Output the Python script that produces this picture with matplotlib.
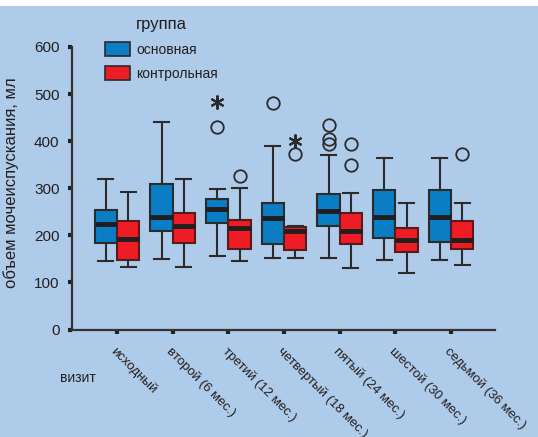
import matplotlib
matplotlib.use("Agg")
import matplotlib.pyplot as plt
from matplotlib.patches import Patch, Rectangle
from matplotlib.transforms import ScaledTranslation

plt.rcParams['font.family'] = ['Liberation Sans', 'DejaVu Sans']

# visits
visits = ['исходный', 'второй (6 мес.)', 'третий (12 мес.)', 'четвертый (18 мес.)',
          'пятый (24 мес.)', 'шестой (30 мес.)', 'седьмой (36 мес.)']

# main group (основная)
main_whislo = [145, 150, 157, 151, 151, 147, 147]
main_q1 = [183, 209, 226, 181, 219, 195, 186]
main_med = [225, 240, 255, 237, 252, 239, 239]
main_q3 = [254, 310, 277, 269, 287, 296, 296]
main_whishi = [319, 440, 298, 390, 370, 364, 364]
main_out = [[], [], [430], [482], [393, 405, 434], [], []]
main_extreme = [[], [], [483], [], [], [], []]

# control group (контрольная)
ctrl_whislo = [132, 132, 145, 151, 130, 121, 137]
ctrl_q1 = [147, 183, 171, 169, 181, 165, 172]
ctrl_med = [192, 219, 216, 209, 210, 190, 190]
ctrl_q3 = [230, 248, 232, 218, 248, 216, 230]
ctrl_whishi = [292, 319, 301, 220, 290, 269, 269]
ctrl_out = [[], [], [327], [372], [350, 393], [], [372]]
ctrl_extreme = [[], [], [], [400], [], [], []]

bg = '#aecbe9'
blue = '#0a7dc4'
red = '#ee1c25'
dark = '#2b2b2b'
txt = '#231f20'

fig = plt.figure(figsize=(5.38, 4.37), dpi=100, facecolor=bg)
fig.patches.append(Rectangle((0, 1 - 6 / 437), 1, 6 / 437, transform=fig.transFigure,
                             facecolor='white', edgecolor='none'))
ax = fig.add_axes([72 / 538, 107.5 / 437, 423 / 538, 282.5 / 437])
ax.set_facecolor(bg)


def stats(lo, q1, med, q3, hi, out):
    return [dict(whislo=a, q1=b, med=c, q3=d, whishi=e, fliers=f)
            for a, b, c, d, e, f in zip(lo, q1, med, q3, hi, out)]


pos = list(range(len(visits)))
common = dict(widths=0.4, capwidths=0.27, patch_artist=True,
              whiskerprops=dict(color=dark, lw=1.5),
              capprops=dict(color=dark, lw=1.5),
              medianprops=dict(color='#1e1e1e', lw=3.5, solid_capstyle='butt'),
              flierprops=dict(marker='o', markerfacecolor='none', markeredgecolor=dark,
                              markersize=9, markeredgewidth=1.3, linestyle='none'))

ax.bxp(stats(main_whislo, main_q1, main_med, main_q3, main_whishi, main_out),
       positions=[p - 0.2 for p in pos],
       boxprops=dict(facecolor=blue, edgecolor=dark, lw=1.5), **common)
ax.bxp(stats(ctrl_whislo, ctrl_q1, ctrl_med, ctrl_q3, ctrl_whishi, ctrl_out),
       positions=[p + 0.2 for p in pos],
       boxprops=dict(facecolor=red, edgecolor='#5a1a1a', lw=1.5), **common)

for p, ex in zip(pos, main_extreme):
    if ex:
        ax.plot([p - 0.2] * len(ex), ex, linestyle='none', marker=(6, 2, 0),
                markersize=10, mew=1.5, color=dark)
for p, ex in zip(pos, ctrl_extreme):
    if ex:
        ax.plot([p + 0.2] * len(ex), ex, linestyle='none', marker=(6, 2, 0),
                markersize=10, mew=1.5, color=dark)

ax.set_xlim(-0.81, 6.79)
ax.set_ylim(0, 600)
ax.set_yticks([0, 100, 200, 300, 400, 500, 600])
ax.set_xticks(pos)
ax.set_xticklabels(visits, rotation=-45, ha='left', va='top', rotation_mode='anchor',
                   fontsize=9.5, color=txt)
shift = ScaledTranslation(6 / 100, 0, fig.dpi_scale_trans)
for lab in ax.get_xticklabels():
    lab.set_transform(lab.get_transform() + shift)
ax.tick_params(axis='y', length=3, width=3, direction='out', colors=txt,
               labelsize=11, pad=6)
ax.tick_params(axis='x', length=3, width=3, direction='out', colors=txt, pad=8)
for s in ['top', 'right']:
    ax.spines[s].set_visible(False)
for s in ['left', 'bottom']:
    ax.spines[s].set_color('#333333')
    ax.spines[s].set_linewidth(1.6)

ax.set_ylabel('объем мочеиспускания, мл', fontsize=12, color=txt, labelpad=3)
ax.yaxis.set_label_coords(-0.125, 0.52)
fig.text(60 / 538, 1 - 378 / 437, 'визит', fontsize=10, color=txt, va='center')

handles = [Patch(facecolor=blue, edgecolor=dark, lw=1.2, label='основная'),
           Patch(facecolor=red, edgecolor=dark, lw=1.2, label='контрольная')]
leg = fig.legend(handles=handles, title='группа', loc='upper left',
                 bbox_to_anchor=(92 / 538, 1 - 5 / 437), frameon=False,
                 fontsize=10, title_fontsize=12, handlelength=1.8, handleheight=1.25,
                 labelspacing=0.65, handletextpad=0.5)
for t in leg.get_texts():
    t.set_color(txt)
leg.get_title().set_color(txt)

fig.savefig('out.png', dpi=100, facecolor=bg)
